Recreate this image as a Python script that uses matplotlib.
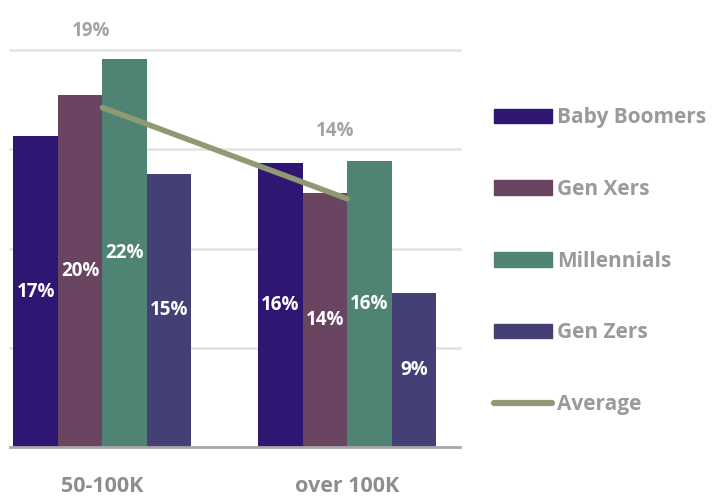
import matplotlib.pyplot as plt
import numpy as np
from matplotlib.patches import Patch
from matplotlib.lines import Line2D

plt.rcParams['font.family'] = ['Open Sans', 'DejaVu Sans']

# data (percent)
groups = ["50-100K", "over 100K"]
series = ["Baby Boomers", "Gen Xers", "Millennials", "Gen Zers"]
baby_boomers = [17.4, 15.9]
gen_xers = [19.7, 14.2]
millennials = [21.7, 16.0]
gen_zers = [15.3, 8.6]
average = [19.0, 13.9]

colors = ["#2f1672", "#6a4562", "#4f8475", "#443f74"]
avg_color = "#8f9a73"
gray_text = "#8e8e8e"

values = [baby_boomers, gen_xers, millennials, gen_zers]

fig = plt.figure(figsize=(7.28, 4.96), dpi=100)
ax = fig.add_axes([10/728, 1 - 447/496, 450/728, 397/496])

x = np.arange(len(groups))
w = 0.182
for i, (name, vals) in enumerate(zip(series, values)):
    pos = x + (i - 1.5) * w
    ax.bar(pos, vals, w, color=colors[i], zorder=2)
    for px, v in zip(pos, vals):
        ax.text(px, v / 2, "%d%%" % round(v), ha="center", va="center",
                color="white", fontsize=13.5, fontweight="bold", zorder=4)

ax.plot(x, average, color=avg_color, lw=4, solid_capstyle="round", zorder=3)
ax.text(x[0] - 0.045, average[0] + 4.3, "%d%%" % round(average[0]),
        ha="center", va="center", color="#a3a3a3", fontsize=13.5, fontweight="bold")
ax.text(x[1] - 0.05, average[1] + 3.8, "%d%%" % round(average[1]),
        ha="center", va="center", color="#a3a3a3", fontsize=13.5, fontweight="bold")

step = 100 / 18
ax.set_ylim(0, 4 * step)
ax.set_xlim(-0.378, 1.462)
for k in range(1, 5):
    ax.axhline(k * step, color="#e3e3e3", lw=1.8, zorder=1, clip_on=False)
ax.axhline(0, color="#a8a8a8", lw=2, zorder=5, clip_on=False)

ax.set_xticks(x)
ax.set_xticklabels(groups, color=gray_text, fontsize=15.5, fontweight="bold")
ax.tick_params(axis="x", length=0, pad=21)
ax.set_yticks([])
for s in ax.spines.values():
    s.set_visible(False)

handles = [Patch(color=c) for c in colors]
handles.append(Line2D([0], [0], color=avg_color, lw=4.5, solid_capstyle="round"))
leg = fig.legend(handles, series + ["Average"], loc="upper left",
                 bbox_to_anchor=(484/728, 1 - 97/496), frameon=False,
                 fontsize=15, handlelength=2.75, handleheight=0.7,
                 handletextpad=0.25, labelspacing=2.43, borderpad=0)
for t in leg.get_texts():
    t.set_color("#9a9a9a")
    t.set_fontweight("bold")

fig.savefig("out.png", dpi=100)
